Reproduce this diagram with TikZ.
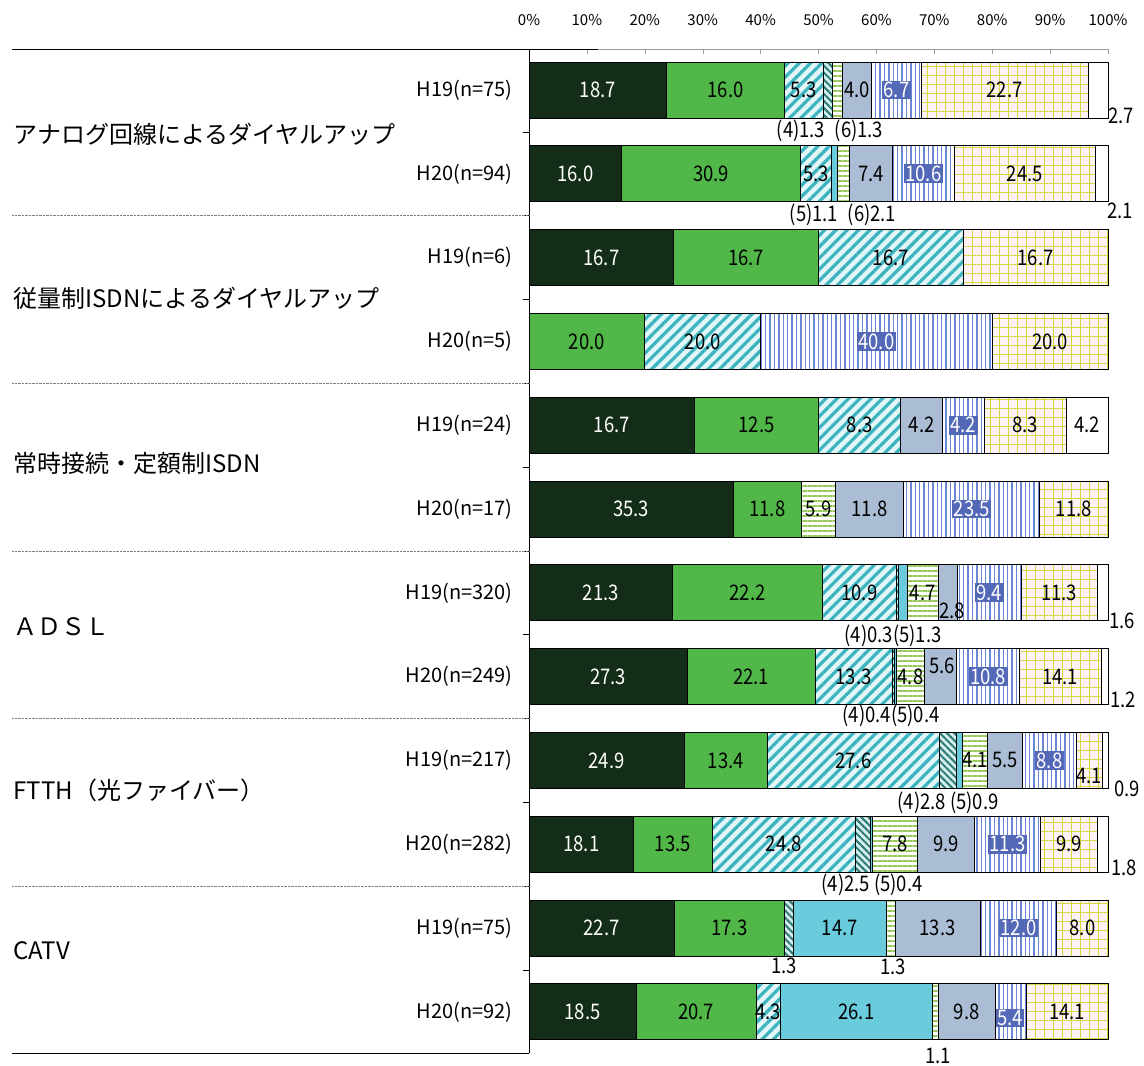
\documentclass[tikz,border=0pt]{standalone}
\usepackage{fontspec}
\setmainfont{Noto Sans CJK JP}
\newfontfamily\numfont[FakeStretch=0.86]{Noto Sans CJK JP}
\usetikzlibrary{patterns.meta}

\definecolor{dkgreen}{RGB}{20,45,24}
\definecolor{midgreen}{RGB}{80,183,72}
\definecolor{cyanln}{RGB}{60,180,192}
\definecolor{cyanbg}{RGB}{226,245,247}
\definecolor{tealln}{RGB}{46,122,118}
\definecolor{tealbg}{RGB}{214,238,238}
\definecolor{cyansolid}{RGB}{106,203,220}
\definecolor{limeln}{RGB}{150,200,90}
\definecolor{greyblue}{RGB}{171,189,213}
\definecolor{blueln}{RGB}{105,135,212}
\definecolor{boxblue}{RGB}{84,104,184}
\definecolor{yellowln}{RGB}{212,214,60}
\definecolor{pinkbg}{RGB}{253,242,248}

\tikzset{
  seg/.style={draw=black,line width=0.8pt},
  c1/.style={fill=dkgreen},
  c2/.style={fill=midgreen},
  c3/.style={preaction={fill=cyanbg},pattern={Lines[angle=45,distance=8pt,line width=3.2pt]},pattern color=cyanln},
  c4/.style={preaction={fill=tealbg},pattern={Lines[angle=-45,distance=5pt,line width=2pt]},pattern color=tealln},
  c5/.style={fill=cyansolid},
  c6/.style={preaction={fill=white},pattern={Lines[angle=0,distance=5pt,line width=1.4pt]},pattern color=limeln},
  c7/.style={fill=greyblue},
  c8/.style={preaction={fill=white},pattern={Lines[angle=90,distance=4.4pt,line width=1.4pt]},pattern color=blueln},
  c9/.style={preaction={fill=pinkbg},pattern={Hatch[angle=0,distance=9pt,line width=1pt]},pattern color=yellowln},
  c10/.style={fill=white},
  val/.style={font={\numfont\fontsize{21.5pt}{21.5pt}\selectfont},inner sep=1pt},
  c1lab/.style={text=white},
  c2lab/.style={}, c3lab/.style={}, c4lab/.style={}, c5lab/.style={},
  c6lab/.style={}, c7lab/.style={}, c9lab/.style={}, c10lab/.style={},
  c8lab/.style={fill=boxblue,text=white,inner sep=1.5pt},
  rowlab/.style={anchor=east,font={\fontsize{20pt}{20pt}\selectfont}},
  grplab/.style={anchor=west,font={\fontsize{24pt}{24pt}\selectfont}},
  pctlab/.style={font={\fontsize{15pt}{15pt}\selectfont}}
}

% one stacked bar: name, y centre, row sum, segments
\newcommand{\barrow}[4]{%
  \gdef\cum{0}%
  \pgfmathsetmacro\unit{579/#3}%
  \foreach \sty/\pct/\shw in {#4}{%
    \pgfmathsetmacro\xa{529+\unit*\cum}%
    \pgfmathsetmacro\xb{529+\unit*(\cum+\pct)}%
    \draw[seg,\sty] (\xa,#2-28) rectangle (\xb,#2+28);
    \ifnum\shw=1 \node[val,\sty lab] (#1\sty) at ({(\xa+\xb)/2},#2) {\pct};\fi
    \pgfmathsetmacro\nc{\cum+\pct}%
    \xdef\cum{\nc}%
  }%
}

\begin{document}
\begin{tikzpicture}[x=1pt,y=-1pt]
  \useasboundingbox (0,0) rectangle (1144,1066);

  % axes
  \draw[gray!80] (529,49) -- (1108,49);
  \foreach \k in {0,...,10}
    \draw[gray!80] (529+57.9*\k,49) -- ++(0,5);
  \foreach \k/\t in {0/0\%,1/10\%,2/20\%,3/30\%,4/40\%,5/50\%,6/60\%,7/70\%,8/80\%,9/90\%,10/100\%}
    \node[pctlab] (p\k) at (529+57.9*\k,20) {\t};
  \draw[line width=0.8pt] (12,49) -- (598,49);
  \draw[line width=0.8pt] (12,1053) -- (529,1053);
  \draw[line width=0.8pt] (529,49) -- (529,1053);
  \foreach \k in {1,...,12}
    \draw (529,48+83.8*\k) -- ++(-6,0);
  \foreach \k in {1,...,5}
    \draw[densely dotted,gray] (12,48+167.6*\k) -- (529,48+167.6*\k);

  % groups
  \node[grplab] (g1) at (10,134) {アナログ回線によるダイヤルアップ};
  \node[grplab] (g2) at (10,298) {従量制ISDNによるダイヤルアップ};
  \node[grplab] (g3) at (10,463) {常時接続・定額制ISDN};
  \node[grplab] (g4) at (10,627) {ＡＤＳＬ};
  \node[grplab] (g5) at (10,790) {FTTH（光ファイバー）};
  \node[grplab] (g6) at (10,951) {CATV};

  \node[rowlab] (n1) at (516,90) {H19(n=75)};
  \node[rowlab] (n2) at (516,173.8) {H20(n=94)};
  \node[rowlab] (n3) at (516,257.6) {H19(n=6)};
  \node[rowlab] (n4) at (516,341.4) {H20(n=5)};
  \node[rowlab] (n5) at (516,425.2) {H19(n=24)};
  \node[rowlab] (n6) at (516,509) {H20(n=17)};
  \node[rowlab] (n7) at (516,592.8) {H19(n=320)};
  \node[rowlab] (n8) at (516,676.6) {H20(n=249)};
  \node[rowlab] (n9) at (516,760.4) {H19(n=217)};
  \node[rowlab] (n10) at (516,844.2) {H20(n=282)};
  \node[rowlab] (n11) at (516,928) {H19(n=75)};
  \node[rowlab] (n12) at (516,1011.8) {H20(n=92)};

  % bars
  \barrow{r1}{90}{78.7}{c1/18.7/1,c2/16.0/1,c3/5.3/1,c4/1.3/0,c6/1.3/0,c7/4.0/1,c8/6.7/1,c9/22.7/1,c10/2.7/0}
  \barrow{r2}{173.8}{100}{c1/16.0/1,c2/30.9/1,c3/5.3/1,c5/1.1/0,c6/2.1/0,c7/7.4/1,c8/10.6/1,c9/24.5/1,c10/2.1/0}
  \barrow{r3}{257.6}{66.8}{c1/16.7/1,c2/16.7/1,c3/16.7/1,c9/16.7/1}
  \barrow{r4}{341.4}{100}{c2/20.0/1,c3/20.0/1,c8/40.0/1,c9/20.0/1}
  \barrow{r5}{425.2}{58.4}{c1/16.7/1,c2/12.5/1,c3/8.3/1,c7/4.2/1,c8/4.2/1,c9/8.3/1,c10/4.2/1}
  \barrow{r6}{509}{100.1}{c1/35.3/1,c2/11.8/1,c6/5.9/1,c7/11.8/1,c8/23.5/1,c9/11.8/1}
  \barrow{r7}{592.8}{85.8}{c1/21.3/1,c2/22.2/1,c3/10.9/1,c4/0.3/0,c5/1.3/0,c6/4.7/1,c7/2.8/0,c8/9.4/1,c9/11.3/1,c10/1.6/0}
  \barrow{r8}{676.6}{100}{c1/27.3/1,c2/22.1/1,c3/13.3/1,c4/0.4/0,c5/0.4/0,c6/4.8/1,c7/5.6/0,c8/10.8/1,c9/14.1/1,c10/1.2/0}
  \barrow{r9}{760.4}{93}{c1/24.9/1,c2/13.4/1,c3/27.6/1,c4/2.8/0,c5/0.9/0,c6/4.1/1,c7/5.5/1,c8/8.8/1,c9/4.1/0,c10/0.9/0}
  \barrow{r10}{844.2}{100}{c1/18.1/1,c2/13.5/1,c3/24.8/1,c4/2.5/0,c5/0.4/0,c6/7.8/1,c7/9.9/1,c8/11.3/1,c9/9.9/1,c10/1.8/0}
  \barrow{r11}{928}{90.6}{c1/22.7/1,c2/17.3/1,c4/1.3/0,c5/14.7/1,c6/1.3/0,c7/13.3/1,c8/12.0/1,c9/8.0/1}
  \barrow{r12}{1011.8}{100}{c1/18.5/1,c2/20.7/1,c3/4.3/1,c5/26.1/1,c6/1.1/0,c7/9.8/1,c8/5.4/0,c9/14.1/1}

  % small values outside the bars
  \node[val] (r1x4) at (801,131) {(4)1.3};
  \node[val] (r1x6) at (859,131) {(6)1.3};
  \node[val] (r1x10) at (1121,116) {2.7};
  \node[val] (r2x5) at (814,215) {(5)1.1};
  \node[val] (r2x6) at (872,215) {(6)2.1};
  \node[val] (r2x10) at (1120,211) {2.1};
  \node[val] (r7x7) at (952,611) {2.8};
  \node[val] (r7x4) at (893,636) {(4)0.3(5)1.3};
  \node[val] (r7x10) at (1122,621) {1.6};
  \node[val] (r8x7) at (942,666) {5.6};
  \node[val] (r8x4) at (891,716) {(4)0.4(5)0.4};
  \node[val] (r8x10) at (1123,700) {1.2};
  \node[val] (r9x9) at (1089,776) {4.1};
  \node[val] (r9x4) at (948,803) {(4)2.8 (5)0.9};
  \node[val] (r9x10) at (1127,789) {0.9};
  \node[val] (r10x4) at (872,885) {(4)2.5 (5)0.4};
  \node[val] (r10x10) at (1124,868) {1.8};
  \node[val] (r11x4) at (784,966) {1.3};
  \node[val] (r11x6) at (893,967) {1.3};
  \node[val,c8lab] (r12x8) at (1010,1018) {5.4};
  \node[val] (r12x6) at (938,1056) {1.1};
\end{tikzpicture}
\end{document}
